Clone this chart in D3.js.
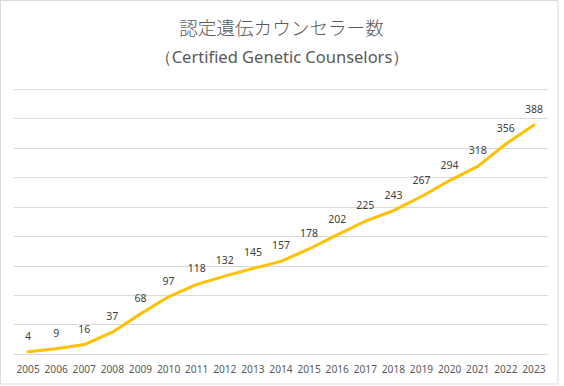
<!DOCTYPE html>
<html>
<head>
<meta charset="utf-8">
<script src="https://cdn.jsdelivr.net/npm/d3@7"></script>
<style>
  body { margin: 0; background: #fff; }
  svg { display: block; }
</style>
</head>
<body>
<div id="chart"></div>
<script>
var years = ['2005','2006','2007','2008','2009','2010','2011','2012','2013','2014',
             '2015','2016','2017','2018','2019','2020','2021','2022','2023'];
var counselors = [4, 9, 16, 37, 68, 97, 118, 132, 145, 157, 178, 202, 225, 243, 267, 294, 318, 356, 388];
var yTicks = [0, 50, 100, 150, 200, 250, 300, 350, 400, 450];
var titleText = '認定遺伝カウンセラー数';
var subtitleText = '（Certified Genetic Counselors）';

var width = 564, height = 386;
var margin = { top: 88.5, right: 16, bottom: 32, left: 14 };

var svg = d3.select('#chart').append('svg')
    .attr('width', width)
    .attr('height', height);

// outer frame
svg.append('rect')
    .attr('x', 0.5).attr('y', 0.5)
    .attr('width', 557.5).attr('height', 383.5)
    .attr('fill', '#fff')
    .attr('stroke', '#d9d9d9');

var x = d3.scaleBand()
    .domain(years)
    .range([margin.left, width - margin.right]);

var y = d3.scaleLinear()
    .domain([0, 450])
    .range([354, margin.top]);

// gridlines
svg.append('g')
    .selectAll('line')
    .data(yTicks)
    .enter()
    .append('line')
        .attr('x1', margin.left)
        .attr('x2', width - margin.right)
        .attr('y1', function(d) { return Math.round(y(d)) + 0.5; })
        .attr('y2', function(d) { return Math.round(y(d)) + 0.5; })
        .attr('stroke', '#d9d9d9')
        .attr('stroke-width', 1);

// x axis labels
var xAxis = d3.axisBottom(x).tickSize(0).tickPadding(0);
var gx = svg.append('g')
    .attr('transform', 'translate(0,' + 362 + ')')
    .call(xAxis);
gx.select('.domain').remove();
gx.selectAll('text')
    .attr('dy', null)
    .attr('y', 10.5)
    .style('font-family', '"Noto Sans", sans-serif')
    .style('font-size', '10.2px')
    .attr('fill', '#595959');

var cx = function(d, i) { return x(years[i]) + x.bandwidth() / 2; };

var line = d3.line()
    .x(cx)
    .y(function(d) { return y(d); });

svg.append('path')
    .datum(counselors)
    .attr('d', line)
    .attr('fill', 'none')
    .attr('stroke', '#ffc000')
    .attr('stroke-width', 3)
    .attr('stroke-linejoin', 'round')
    .attr('stroke-linecap', 'round');

// data labels
svg.selectAll('.valueLabel')
    .data(counselors)
    .enter()
    .append('text')
        .attr('class', 'valueLabel')
        .attr('x', cx)
        .attr('y', function(d) { return y(d) - 12; })
        .attr('text-anchor', 'middle')
        .style('font-family', '"Noto Sans", sans-serif')
        .style('font-size', '10.5px')
        .attr('fill', '#404040')
        .text(function(d) { return d; });

// titles
svg.append('text')
    .attr('x', width / 2 - 0.5)
    .attr('y', 34.5)
    .attr('text-anchor', 'middle')
    .style('font-family', '"Noto Sans CJK JP", sans-serif')
    .style('font-weight', 300)
    .style('font-size', '18.6px')
    .attr('fill', '#595959')
    .text(titleText);

svg.append('text')
    .attr('x', width / 2)
    .attr('y', 63.3)
    .attr('text-anchor', 'middle')
    .style('font-family', '"Noto Sans", sans-serif')
    .style('font-size', '16.5px')
    .attr('fill', '#595959')
    .text(subtitleText);
</script>
</body>
</html>
